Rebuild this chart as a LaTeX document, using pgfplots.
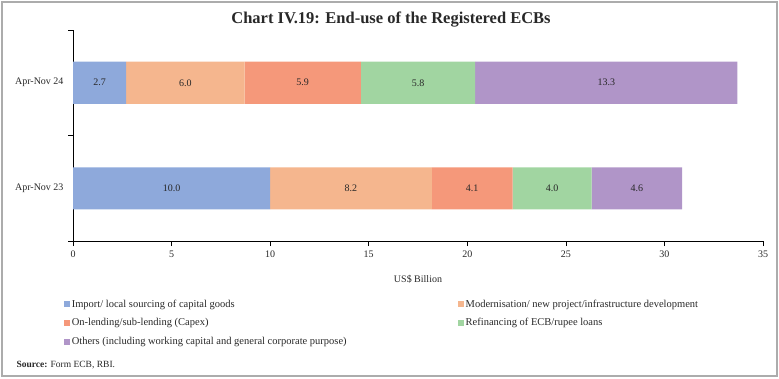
\documentclass[border=0pt]{standalone}
\usepackage{pgfplots}
\pgfplotsset{compat=1.18}
\usepackage{fontspec}
\setmainfont{Liberation Serif}
\definecolor{cImp}{RGB}{142,169,219}
\definecolor{cMod}{RGB}{245,182,142}
\definecolor{cLen}{RGB}{245,152,122}
\definecolor{cRef}{RGB}{161,213,161}
\definecolor{cOth}{RGB}{176,149,200}
\definecolor{cTxt}{RGB}{40,40,40}
\begin{document}
\begin{tikzpicture}[x=1bp,y=1bp]
\path[use as bounding box] (0,0) rectangle (779,378);
\draw[gray!65, line width=1.3bp] (2,2) rectangle (777,376);
\node[font=\fontsize{16.5bp}{19bp}\selectfont\bfseries, text=cTxt] at (391,358) {Chart IV.19: End-use of the Registered ECBs};
\node[anchor=west, font=\fontsize{9.5bp}{11bp}\selectfont, text=cTxt] at (13,13) {\textbf{Source:} Form ECB, RBI.};
\begin{axis}[
  at={(73bp,137bp)}, anchor=south west,
  scale only axis, width=690bp, height=211bp,
  xbar stacked, bar width=42bp,
  xmin=0, xmax=35, ymin=-0.5, ymax=1.5,
  axis lines*=left,
  axis line style={black, line width=0.7bp},
  xtick={0,5,...,35},
  ytick={-0.5,0.5,1.5}, yticklabels={},
  extra y ticks={0,1}, extra y tick labels={Apr-Nov 23, Apr-Nov 24},
  extra y tick style={major tick length=0pt, yticklabel style={xshift=-6bp}},
  tick align=outside, major tick length=5bp,
  tick style={black, line width=0.7bp},
  tick label style={font=\fontsize{10bp}{12bp}\selectfont, text=cTxt},
  xticklabel style={yshift=-1.5bp},
  /pgf/number format/assume math mode=true,
  xlabel={US\$ Billion},
  xlabel style={font=\fontsize{10bp}{12bp}\selectfont, text=cTxt, yshift=-11bp},
  legend columns=2,
  legend cell align=left,
  legend style={at={(-0.018,-0.258)}, anchor=north west, draw=none, fill=none,
    font=\fontsize{10.5bp}{12bp}\selectfont, text=cTxt, row sep=6bp,
    /tikz/every even column/.append style={column sep=109bp}},
  legend image code/.code={\fill[#1] (0bp,-3bp) rectangle (6bp,3bp);},
]
\addplot[fill=cImp, draw=none] coordinates {(10.0,0) (2.7,1)};
\addplot[fill=cMod, draw=none] coordinates {(8.2,0) (6.0,1)};
\addplot[fill=cLen, draw=none] coordinates {(4.1,0) (5.9,1)};
\addplot[fill=cRef, draw=none] coordinates {(4.0,0) (5.8,1)};
\addplot[fill=cOth, draw=none] coordinates {(4.6,0) (13.3,1)};
\legend{Import/ local sourcing of capital goods, Modernisation/ new project/infrastructure development, On-lending/sub-lending (Capex), Refinancing of ECB/rupee loans, Others (including working capital and general corporate purpose)}
\end{axis}
\begin{axis}[
  at={(73bp,137bp)}, anchor=south west,
  scale only axis, width=690bp, height=211bp,
  xmin=0, xmax=35, ymin=-0.5, ymax=1.5,
  hide axis,
]
\addplot[only marks, mark=none, point meta=explicit symbolic,
  nodes near coords, nodes near coords align=center,
  every node near coord/.append style={font=\fontsize{10bp}{12bp}\selectfont, text=cTxt, anchor=center}]
  coordinates {
  (1.35,1) [2.7] (5.7,1) [6.0] (11.65,1) [5.9] (17.5,1) [5.8] (27.05,1) [13.3]
  (5.0,0) [10.0] (14.1,0) [8.2] (20.25,0) [4.1] (24.3,0) [4.0] (28.6,0) [4.6]
  };
\end{axis}
\end{tikzpicture}
\end{document}
